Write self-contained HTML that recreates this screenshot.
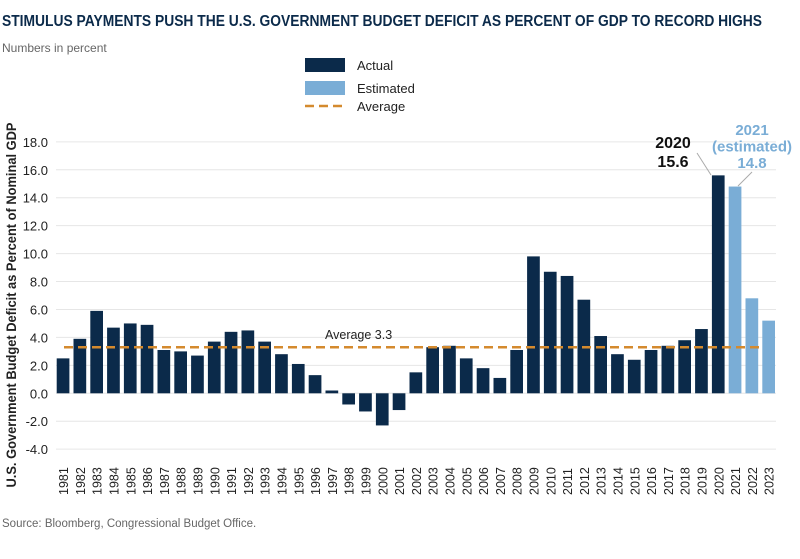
<!DOCTYPE html>
<html><head><meta charset="utf-8"><style>
body{margin:0;background:#fff;font-family:"Liberation Sans",sans-serif}
svg{display:block}
</style></head><body>
<svg width="800" height="559" viewBox="0 0 800 559">
<text x="2" y="26" font-size="15.5" font-weight="bold" fill="#0b2a4a" textLength="760" lengthAdjust="spacingAndGlyphs">STIMULUS PAYMENTS PUSH THE U.S. GOVERNMENT BUDGET DEFICIT AS PERCENT OF GDP TO RECORD HIGHS</text>
<text x="2" y="52" font-size="12" fill="#666">Numbers in percent</text>
<g>
<rect x="305" y="58" width="40" height="14" fill="#0b2a4a"/>
<text x="357" y="70" font-size="13" fill="#222">Actual</text>
<rect x="305" y="81" width="40" height="14" fill="#7aadd6"/>
<text x="357" y="93" font-size="13" fill="#222">Estimated</text>
<line x1="305" y1="106" x2="345" y2="106" stroke="#d48a2e" stroke-width="2.5" stroke-dasharray="9,5"/>
<text x="357" y="111" font-size="13" fill="#222">Average</text>
</g>
<text transform="translate(16,305) rotate(-90)" text-anchor="middle" font-size="13.5" font-weight="bold" fill="#222" textLength="365" lengthAdjust="spacingAndGlyphs">U.S. Government Budget Deficit as Percent of Nominal GDP</text>
<g id="grid"></g><g id="bars"></g><g id="labels"></g>
<text x="673" y="148" text-anchor="middle" font-size="16" font-weight="bold" fill="#111"><tspan x="673">2020</tspan><tspan x="673" dy="19">15.6</tspan></text>
<line x1="697" y1="153" x2="711" y2="175" stroke="#aaa" stroke-width="1"/>
<text x="752" y="135" text-anchor="middle" font-size="15" font-weight="bold" fill="#7aadd6"><tspan x="752">2021</tspan><tspan x="752" dy="16.5">(estimated)</tspan><tspan x="752" dy="16.5">14.8</tspan></text>
<line x1="752" y1="172" x2="738" y2="186" stroke="#aaa" stroke-width="1"/>
<text x="2" y="527" font-size="11.5" fill="#666">Source:  Bloomberg, Congressional Budget Office.</text>
</svg>
<script>
const years=[];for(let y=1981;y<=2023;y++)years.push(String(y));
const values=[2.5,3.9,5.9,4.7,5.0,4.9,3.1,3.0,2.7,3.7,4.4,4.5,3.7,2.8,2.1,1.3,0.2,-0.8,-1.3,-2.3,-1.2,1.5,3.3,3.4,2.5,1.8,1.1,3.1,9.8,8.7,8.4,6.7,4.1,2.8,2.4,3.1,3.4,3.8,4.6,15.6,14.8,6.8,5.2];
const estimated=[false,false,false,false,false,false,false,false,false,false,false,false,false,false,false,false,false,false,false,false,false,false,false,false,false,false,false,false,false,false,false,false,false,false,false,false,false,false,false,false,true,true,true];
const yTicks=[18,16,14,12,10,8,6,4,2,0,-2,-4];
const tickLabels=["18.0","16.0","14.0","12.0","10.0","8.0","6.0","4.0","2.0","0.0","-2.0","-4.0"];
const average=3.3;
const NS="http://www.w3.org/2000/svg";
const y0=393.3,ppu=13.97,x0=56.7,pitch=16.8,bw=12.7;
const yS=v=>y0-v*ppu, xS=i=>x0+i*pitch;
function mk(t,a,p){const e=document.createElementNS(NS,t);for(const k in a)e.setAttribute(k,a[k]);p.appendChild(e);return e;}
const grid=document.getElementById('grid'),bars=document.getElementById('bars'),lab=document.getElementById('labels');
yTicks.forEach((v,i)=>{
 const l=mk('line',{x1:56,x2:776,y1:yS(v),y2:yS(v),stroke:'#e6e6e6','stroke-width':1},grid);
 
 
 const t=mk('text',{x:48,y:yS(v)+5,'text-anchor':'end','font-size':13,fill:'#222'},grid);
 t.textContent=tickLabels[i];
 
 
});
values.forEach((v,i)=>{
 const x=xS(i);
 const r=mk('rect',{x:x,y:Math.min(yS(v),y0),width:bw,height:Math.abs(v)*ppu,fill:estimated[i]?'#7aadd6':'#0b2a4a'},bars);
 
 
 const t=mk('text',{transform:`translate(${x+bw/2+5},495) rotate(-90)`,'font-size':12.5,fill:'#222'},lab);
 t.textContent=years[i];
 
 
});
const al=mk('line',{x1:64,x2:762,y1:yS(average),y2:yS(average),stroke:'#d48a2e','stroke-width':2.5,'stroke-dasharray':'9,5'},bars);


const at=mk('text',{x:325,y:yS(average)-8,'font-size':12.5,fill:'#222'},bars);
at.textContent='Average '+average;


</script>
</body></html>
